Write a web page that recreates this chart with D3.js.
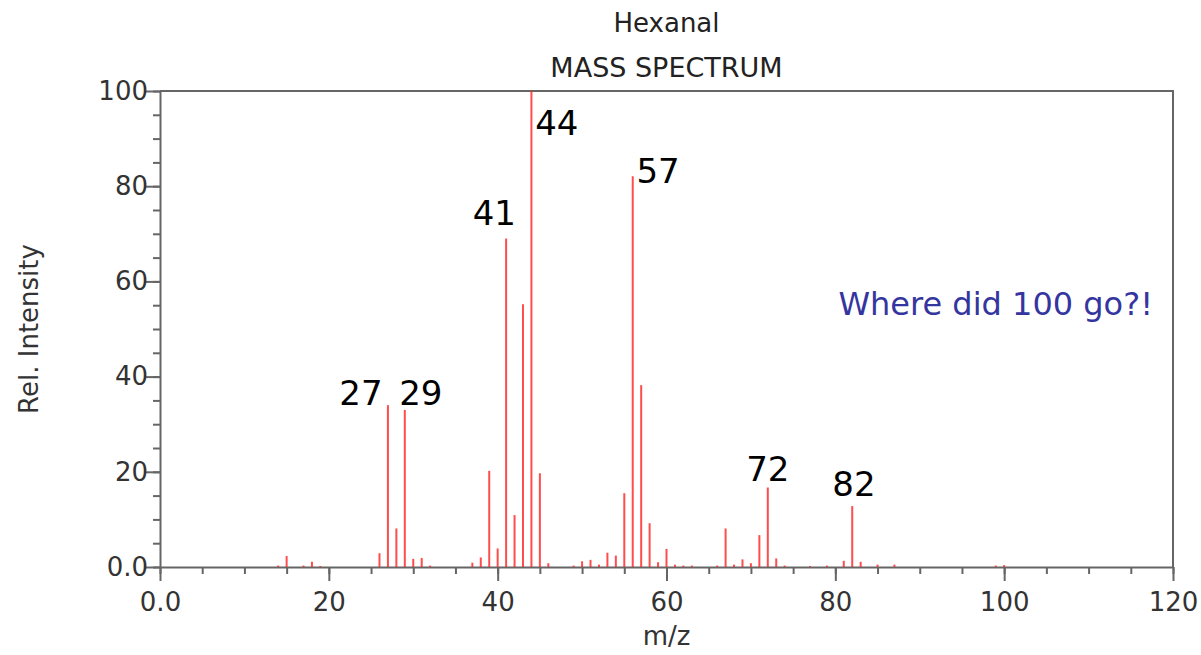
<!DOCTYPE html>
<html><head>
<meta charset="utf-8">
<title>Hexanal mass spectrum</title>
<script src="https://d3js.org/d3.v7.min.js"></script>
<style>
  body { margin: 0; background: #fff; }
  text { font-family: "DejaVu Sans", Verdana, sans-serif; }
  .tick text { fill: #333; font-size: 26px; }
  .tick line, .domain { stroke: #666; stroke-width: 2px; }
  .frame { fill: none; stroke: #666; stroke-width: 2px; }
  .peak { stroke: #ff2020; stroke-width: 2px; stroke-opacity: 0.8; }
  .peakLabel { font-size: 34px; fill: #000; text-anchor: middle; }
</style>
</head>
<body>
<svg id="chart" width="1201" height="655"></svg>
<script>

// peaks (m/z, relative intensity)
const mz = [14, 15, 17, 18, 19, 26, 27, 28, 29, 30, 31, 32, 37, 38, 39, 40, 41, 42, 43, 44,
            45, 46, 49, 50, 51, 52, 53, 54, 55, 56, 57, 58, 59, 60, 61, 62, 63, 66, 67, 68,
            69, 70, 71, 72, 73, 74, 77, 79, 81, 82, 83, 85, 87, 99, 100];
const intensity = [0.3, 2.3, 0.3, 1.1, 0.2, 2.9, 34.0, 8.1, 33.0, 1.7, 1.9, 0.3, 0.9, 2.0, 20.2, 3.9, 69.0, 10.9, 55.2, 100,
                   19.7, 0.8, 0.3, 1.2, 1.5, 0.5, 3.0, 2.4, 15.5, 82.1, 38.2, 9.2, 1.0, 3.8, 0.5, 0.3, 0.3, 0.3, 8.1, 0.5,
                   1.6, 0.8, 6.7, 16.7, 1.8, 0.3, 0.2, 0.3, 1.3, 12.8, 1.1, 0.5, 0.5, 0.3, 0.4];

// peak labels, placed in data units (label centre m/z, baseline intensity)
const labelText = ["27", "29", "41", "44", "57", "72", "82"];
const labelX = [23.8, 30.9, 39.6, 47.0, 59.0, 72.0, 82.2];
const labelY = [34.0, 34.0, 71.8, 90.8, 80.7, 18.1, 14.9];

const xTicks = [0, 20, 40, 60, 80, 100, 120];
const xTickLabels = ["0.0", "20", "40", "60", "80", "100", "120"];
const yTicks = [0, 20, 40, 60, 80, 100];
const yTickLabels = ["0.0", "20", "40", "60", "80", "100"];

const svg = d3.select("#chart");
const margin = { top: 91, right: 28, bottom: 88, left: 160 };
const width = +svg.attr("width") - margin.left - margin.right;
const height = +svg.attr("height") - margin.top - margin.bottom;

const x = d3.scaleLinear().domain([0, 120]).range([0, width]);
const y = d3.scaleLinear().domain([0, 100]).range([height, 0]);

const plot = svg.append("g")
  .attr("transform", "translate(" + margin.left + "," + margin.top + ")");

// minor ticks every 5 units
plot.append("g")
  .attr("transform", "translate(0," + height + ")")
  .call(d3.axisBottom(x).tickValues(d3.range(0, 121, 5)).tickSize(7).tickFormat(""))
  .call(g => g.select(".domain").remove());
plot.append("g")
  .call(d3.axisLeft(y).tickValues(d3.range(0, 101, 5)).tickSize(7).tickFormat(""))
  .call(g => g.select(".domain").remove());

// major ticks
plot.append("g")
  .attr("transform", "translate(0," + height + ")")
  .call(d3.axisBottom(x).tickValues(xTicks).tickSize(14).tickSizeOuter(0)
    .tickFormat((d, i) => xTickLabels[i]))
  .call(g => g.selectAll(".tick text").attr("dy", "1.05em"));
plot.append("g")
  .call(d3.axisLeft(y).tickValues(yTicks).tickSize(14).tickSizeOuter(0)
    .tickFormat((d, i) => yTickLabels[i]))
  .call(g => g.selectAll(".tick text").attr("x", -12));

// top and right edges of the frame
plot.append("path")
  .attr("class", "frame")
  .attr("d", "M0,0H" + width + "V" + height);

// the spectrum
plot.selectAll("line.peak").data(mz)
  .join("line")
  .attr("class", "peak")
  .attr("x1", d => x(d))
  .attr("x2", d => x(d))
  .attr("y1", y(0))
  .attr("y2", (d, i) => y(intensity[i]));

plot.selectAll("text.peakLabel").data(labelText)
  .join("text")
  .attr("class", "peakLabel")
  .attr("x", (d, i) => x(labelX[i]))
  .attr("y", (d, i) => y(labelY[i]))
  .text(d => d);

plot.append("text")
  .attr("x", x(99.0))
  .attr("y", y(52.9))
  .attr("text-anchor", "middle")
  .attr("font-size", 32)
  .attr("fill", "#3535a0")
  .text("Where did 100 go?!");

// titles
svg.append("text")
  .attr("x", margin.left + width / 2)
  .attr("y", 32)
  .attr("text-anchor", "middle")
  .attr("font-size", 26)
  .attr("fill", "#222")
  .text("Hexanal");
svg.append("text")
  .attr("x", margin.left + width / 2)
  .attr("y", 77)
  .attr("text-anchor", "middle")
  .attr("font-size", 27)
  .attr("fill", "#222")
  .text("MASS SPECTRUM");

svg.append("text")
  .attr("x", margin.left + width / 2)
  .attr("y", 645)
  .attr("text-anchor", "middle")
  .attr("font-size", 26)
  .attr("fill", "#333")
  .text("m/z");
svg.append("text")
  .attr("transform", "translate(38," + (margin.top + height / 2) + ") rotate(-90)")
  .attr("text-anchor", "middle")
  .attr("font-size", 26)
  .attr("fill", "#333")
  .text("Rel. Intensity");

</script>
</body>
</html>
